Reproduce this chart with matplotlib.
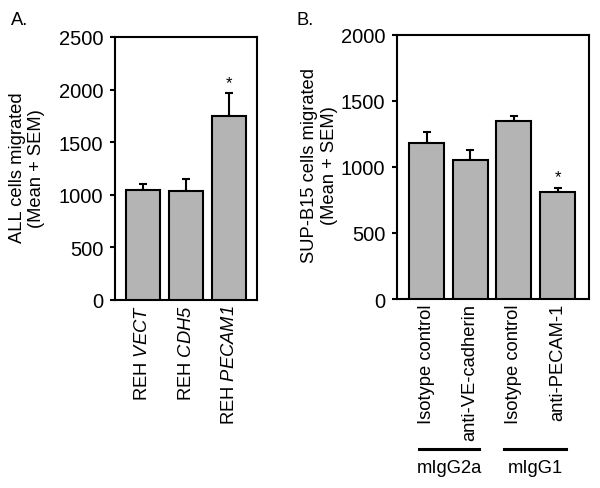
import numpy as np
import matplotlib
matplotlib.use("Agg")
import matplotlib.pyplot as plt
from matplotlib.transforms import blended_transform_factory

plt.rcParams["font.family"] = ["Liberation Sans", "DejaVu Sans"]
# math text is only used for the italic gene names, so make digits italic too
plt.rcParams["mathtext.fontset"] = "custom"
plt.rcParams["mathtext.rm"] = "Liberation Sans:italic"
plt.rcParams["mathtext.it"] = "Liberation Sans:italic"

# Panel A data
a_labels = [r"REH $\mathrm{VECT}$", r"REH $\mathrm{CDH5}$", r"REH $\mathrm{PECAM1}$"]
a_means = [1048, 1038, 1745]
a_sem = [52, 112, 218]
a_star = [False, False, True]

# Panel B data
b_labels = ["Isotype control", "anti-VE-cadherin", "Isotype control", "anti-PECAM-1"]
b_means = [1184, 1050, 1346, 810]
b_sem = [80, 82, 38, 30]
b_star = [False, False, False, True]
b_groups = ["mIgG2a", "mIgG1"]

bar_color = "#b4b4b4"
fs_y = 14.5
fs = 13.2
lw = 1.5

fig = plt.figure(figsize=(6.0, 4.89), dpi=100)
axA = fig.add_axes([0.1917, 0.3845, 0.2367, 0.5378])
axB = fig.add_axes([0.6617, 0.3865, 0.32, 0.54])


def draw_panel(ax, labels, means, sem, stars, ymax, xlim, star_gap):
    x = np.arange(len(means))
    ax.errorbar(x, means, yerr=[np.zeros(len(sem)), sem], fmt="none",
                ecolor="black", elinewidth=lw, capsize=3, capthick=lw, zorder=2)
    ax.bar(x, means, width=0.8, color=bar_color, edgecolor="black",
           linewidth=lw, zorder=3)
    for xi, m, s, st in zip(x, means, sem, stars):
        if st:
            ax.text(xi, m + s + star_gap, "*", ha="center", va="center",
                    fontsize=12)
    ax.set_xlim(*xlim)
    ax.set_ylim(0, ymax)
    ax.set_yticks(np.arange(0, ymax + 1, 500))
    ax.set_xticks(x)
    ax.set_xticklabels(labels, rotation=90, fontsize=fs, va="top")
    ax.tick_params(axis="x", length=0, pad=3)
    ax.tick_params(axis="y", direction="out", length=3.5, width=lw,
                   labelsize=fs_y, pad=5)
    for sp in ax.spines.values():
        sp.set_linewidth(lw)


draw_panel(axA, a_labels, a_means, a_sem, a_star, 2500, (-0.65, 2.65), 100)
draw_panel(axB, b_labels, b_means, b_sem, b_star, 2000, (-0.675, 3.72), 85)

axA.set_ylabel("ALL cells migrated\n(Mean + SEM)", fontsize=fs, linespacing=1.2)
axA.yaxis.set_label_coords(-0.49, 0.505)
axB.set_ylabel("SUP-B15 cells migrated\n(Mean + SEM)", fontsize=fs, linespacing=1.2)
axB.yaxis.set_label_coords(-0.31, 0.51)

# antibody isotype groups under panel B
trans = blended_transform_factory(axB.transData, axB.transAxes)
group_spans = [(-0.17, 1.2), (1.78, 3.19)]
for name, (x0, x1) in zip(b_groups, group_spans):
    axB.plot([x0, x1], [-0.568, -0.568], color="black", lw=2.2,
             transform=trans, clip_on=False)
    axB.text((x0 + x1) / 2, -0.638, name, transform=trans, ha="center",
             va="center", fontsize=fs)

fig.text(0.018, 0.975, "A.", fontsize=fs, va="top", ha="left")
fig.text(0.495, 0.975, "B.", fontsize=fs, va="top", ha="left")

fig.savefig("out.png", dpi=100)
